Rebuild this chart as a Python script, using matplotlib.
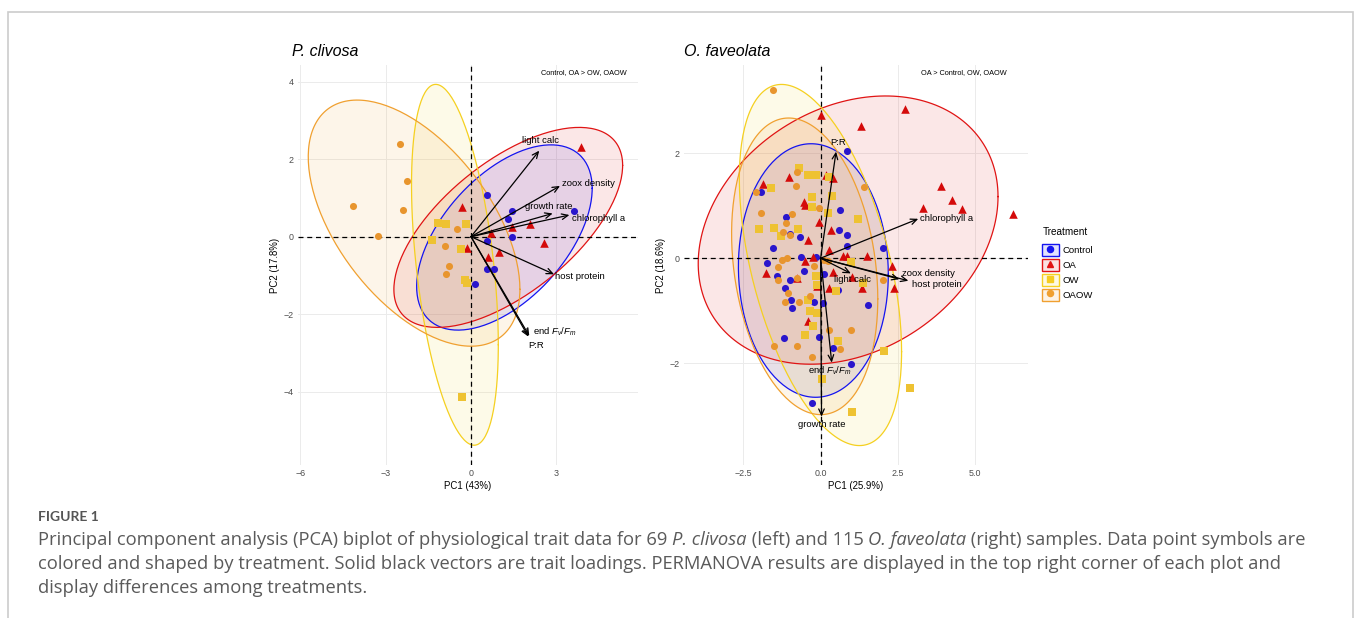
import numpy as np
import matplotlib
matplotlib.use("Agg")
import matplotlib.pyplot as plt
from matplotlib.patches import Patch, Rectangle
from matplotlib.lines import Line2D

plt.rcParams["font.family"] = ["Liberation Sans", "DejaVu Sans"]
plt.rcParams["mathtext.fontset"] = "custom"
plt.rcParams["mathtext.rm"] = "Liberation Sans"
plt.rcParams["mathtext.it"] = "Liberation Sans:italic"

W, H = 1357, 618

# ---- P. clivosa scores (PC1, PC2) ----
ctrl_L_x = [0.57, 1.45, 1.31, 3.63, 1.45, 0.57, 0.57, 0.82, 0.14]
ctrl_L_y = [1.08, 0.67, 0.46, 0.66, -0.02, -0.10, -0.84, -0.84, -1.23]
oa_L_x = [3.87, -0.33, 2.07, 1.45, 0.69, 2.57, -0.13, 1.00, 0.61]
oa_L_y = [2.32, 0.76, 0.34, 0.24, 0.09, -0.15, -0.28, -0.39, -0.52]
ow_L_x = [-1.15, -0.88, -0.16, -1.37, -0.36, -0.21, -0.13, -0.30]
ow_L_y = [0.36, 0.34, 0.34, -0.09, -0.32, -1.12, -1.20, -4.13]
oaow_L_x = [-2.50, -2.24, -4.14, -2.40, -3.26, -0.48, -0.91, -0.77, -0.89]
oaow_L_y = [2.38, 1.45, 0.80, 0.69, 0.02, 0.19, -0.24, -0.76, -0.95]

# ---- O. faveolata scores ----
ctrl_R_x = [0.84, -1.92, 0.63, -1.13, -0.99, -0.67, 0.60, 0.86, 0.84, 2.03, -1.53, -0.64, -0.16, -1.75, -1.42,
            -0.99, -0.54, 0.11, 0.55, -1.15, -0.97, -0.94, -0.20, 0.09, 1.52, -1.19, -0.04, 0.41, 0.97, -0.28]
ctrl_R_y = [2.05, 1.27, 0.92, 0.78, 0.46, 0.41, 0.53, 0.44, 0.23, 0.20, 0.19, 0.03, 0.03, -0.10, -0.34,
            -0.41, -0.25, -0.30, -0.60, -0.57, -0.79, -0.95, -0.83, -0.86, -0.90, -1.52, -1.50, -1.71, -2.02, -2.75]
oa_R_x = [2.74, 1.32, 0.00, 3.88, 4.26, 4.56, 3.32, 6.24, -1.86, -1.01, 0.19, 0.41, -0.53, -0.49, -0.04, 0.32, -0.41,
          0.28, 0.71, 0.86, 1.51, 2.32, -0.24, -0.50, -1.77, -0.78, 0.39, 1.00, -0.11, 0.28, 1.35, 2.38, -0.40]
oa_R_y = [2.84, 2.52, 2.73, 1.37, 1.11, 0.93, 0.95, 0.84, 1.42, 1.54, 1.59, 1.53, 1.07, 1.02, 0.68, 0.54, 0.35,
          0.16, 0.04, 0.04, 0.04, -0.14, 0.03, -0.06, -0.29, -0.37, -0.27, -0.35, -0.53, -0.56, -0.57, -0.57, -1.19]
ow_R_x = [-0.71, -0.41, -0.16, 0.27, -1.62, -0.29, 0.36, -0.27, 0.25, 1.20, -2.00, -1.50, -1.28, -0.74, 0.98,
          -0.16, -0.13, 1.38, 0.49, -0.40, -0.35, -0.13, -0.24, -0.49, 0.55, 2.05, 0.03, 2.89, 1.00]
ow_R_y = [1.71, 1.59, 1.59, 1.54, 1.33, 1.16, 1.19, 0.98, 0.86, 0.75, 0.55, 0.57, 0.43, 0.55, -0.08,
          -0.34, -0.51, -0.48, -0.63, -0.79, -1.00, -1.05, -1.30, -1.46, -1.57, -1.76, -2.30, -2.48, -2.93]
oaow_R_x = [-1.55, -0.78, -0.81, -0.04, 1.39, -2.09, -1.94, -0.94, -1.12, -1.23, -0.99, -1.10, -1.26, 0.11, 0.25,
            -1.39, -0.22, -1.37, -0.78, 2.03, -1.15, -1.07, -0.70, -0.35, 0.27, 0.98, -1.50, -0.76, 0.63, -0.27]
oaow_R_y = [3.21, 1.64, 1.37, 0.95, 1.35, 1.27, 0.87, 0.84, 0.67, 0.49, 0.44, 0.00, -0.03, -0.03, -0.05,
            -0.16, -0.15, -0.41, -0.38, -0.41, -0.84, -0.67, -0.84, -0.73, -1.37, -1.37, -1.68, -1.68, -1.73, -1.89]

# ---- trait loadings ----
traits_L = ["light calc", "zoox density", "growth rate", "chlorophyll a", "host protein", "end $F_v/F_m$", "P:R"]
load_L_x = [2.40, 3.13, 2.87, 3.46, 2.92, 2.05, 2.02]
load_L_y = [2.22, 1.31, 0.60, 0.56, -0.97, -2.56, -2.58]
lab_L_x = [2.44, 3.21, 2.75, 3.54, 2.95, 2.19, 2.02]
lab_L_y = [2.48, 1.38, 0.79, 0.46, -1.03, -2.45, -2.80]
lab_L_ha = ["center", "left", "center", "left", "left", "left", "left"]

traits_R = ["P:R", "chlorophyll a", "light calc", "zoox density", "host protein", "end $F_v/F_m$", "growth rate"]
load_R_x = [0.50, 3.16, 0.98, 2.55, 2.84, 0.36, 0.03]
load_R_y = [2.03, 0.75, -0.29, -0.40, -0.43, -1.99, -3.02]
lab_R_x = [0.58, 3.21, 1.02, 3.48, 3.75, 0.31, 0.03]
lab_R_y = [2.21, 0.76, -0.41, -0.29, -0.50, -2.14, -3.16]
lab_R_ha = ["center", "left", "center", "center", "center", "center", "center"]

# ---- 95% ellipses: centre x, centre y, sd x, sd y, correlation ----
groups = ["Control", "OA", "OW", "OAOW"]
ell_L = [(1.175, -0.02, 3.085, 2.39, 0.53),
         (1.31, 0.24, 4.02, 2.58, 0.62),
         (-0.565, -0.725, 1.525, 4.655, -0.443),
         (-2.0, 0.35, 3.72, 3.175, -0.538)]
ell_R = [(-0.235, -0.235, 2.425, 2.415, -0.03),
         (0.89, 0.535, 4.85, 2.555, 0.25),
         (-0.005, -0.13, 2.625, 3.44, -0.48),
         (-0.515, -0.155, 2.365, 2.825, -0.22)]

line_cols = ["#1414F0", "#E01414", "#F5D020", "#F0A030"]
point_cols = ["#2A16CC", "#D40A0A", "#EEC232", "#E8952E"]
markers = ["o", "^", "s", "o"]

fig = plt.figure(figsize=(W / 100, H / 100), dpi=100)
fig.patches.append(Rectangle((7.5 / W, -0.05), 1345 / W, (H - 12.5) / H + 0.05, transform=fig.transFigure,
                             fill=False, edgecolor="#CCCCCC", linewidth=1.2))


def draw_panel(ax, pts, ells, load_x, load_y, traits, lab_x, lab_y, lab_ha, xlim, ylim, xticks, xticklabels,
               yticks, title, note, xlabel, ylabel):
    t = np.linspace(0, 2 * np.pi, 200)
    for (cx, cy, sx, sy, r), lc in zip(ells, line_cols):
        ex = cx + sx * np.cos(t)
        ey = cy + sy * (r * np.cos(t) + np.sqrt(1 - r * r) * np.sin(t))
        ax.fill(ex, ey, color=lc, alpha=0.1, lw=0, zorder=1)
        ax.plot(ex, ey, color=lc, lw=0.9, zorder=1.2)
    ax.axhline(0, color="black", ls=(0, (4, 3)), lw=0.9, zorder=1.5)
    ax.axvline(0, color="black", ls=(0, (4, 3)), lw=0.9, zorder=1.5)
    for (px, py), pc, mk in zip(pts, point_cols, markers):
        ax.scatter(px, py, s=26 if mk != "^" else 38, marker=mk, color=pc, lw=0, zorder=3)
    for tx, ty in zip(load_x, load_y):
        ax.annotate("", xy=(tx, ty), xytext=(0, 0),
                    arrowprops=dict(arrowstyle="->,head_length=0.45,head_width=0.2", color="black", lw=0.9,
                                    shrinkA=0, shrinkB=0), zorder=4)
    for name, lx, ly, ha in zip(traits, lab_x, lab_y, lab_ha):
        ax.text(lx, ly, name, ha=ha, va="center", fontsize=6.8, color="black", zorder=5)
    ax.set_xlim(xlim)
    ax.set_ylim(ylim)
    ax.set_xticks(xticks)
    ax.set_xticklabels(xticklabels)
    ax.set_yticks(yticks)
    ax.grid(True, color="#EBEBEB", lw=0.7)
    ax.set_axisbelow(True)
    for s in ax.spines.values():
        s.set_visible(False)
    ax.tick_params(length=0, labelsize=6.4, labelcolor="#4D4D4D", pad=3)
    ax.set_xlabel(xlabel, fontsize=6.9, labelpad=2)
    ax.set_ylabel(ylabel, fontsize=6.9, labelpad=3)
    ax.text(title[1], 1.022, title[0], transform=ax.transAxes, fontsize=11.5, style="italic", ha="left",
            va="baseline")
    ax.text(note[1], 0.98, note[0], transform=ax.transAxes, fontsize=5.3, ha="right", va="center")


ax1 = fig.add_axes([298 / W, 1 - 465 / H, 340 / W, 400 / H])
draw_panel(ax1, [(ctrl_L_x, ctrl_L_y), (oa_L_x, oa_L_y), (ow_L_x, ow_L_y), (oaow_L_x, oaow_L_y)], ell_L,
           load_L_x, load_L_y, traits_L, lab_L_x, lab_L_y, lab_L_ha,
           (-6.08, 5.87), (-5.89, 4.43), [-6, -3, 0, 3], ["\u22126", "\u22123", "0", "3"], [-4, -2, 0, 2, 4],
           ("P. clivosa", -0.018), ("Control, OA > OW, OAOW", 0.968), "PC1 (43%)", "PC2 (17.8%)")

ax2 = fig.add_axes([684 / W, 1 - 465 / H, 344 / W, 400 / H])
draw_panel(ax2, [(ctrl_R_x, ctrl_R_y), (oa_R_x, oa_R_y), (ow_R_x, ow_R_y), (oaow_R_x, oaow_R_y)], ell_R,
           load_R_x, load_R_y, traits_R, lab_R_x, lab_R_y, lab_R_ha,
           (-4.42, 6.71), (-3.94, 3.68), [-2.5, 0, 2.5, 5.0], ["\u22122.5", "0.0", "2.5", "5.0"], [-2, 0, 2],
           ("O. faveolata", 0.0), ("OA > Control, OW, OAOW", 0.939), "PC1 (25.9%)", "PC2 (18.6%)")

# legend
handles = []
for lc, pc, mk in zip(line_cols, point_cols, markers):
    box = Patch(facecolor=matplotlib.colors.to_rgba(lc, 0.12), edgecolor=lc, lw=1.0)
    mark = Line2D([], [], marker=mk, color=lc if lc != "#F5D020" else "#F5CC20", ls="", markersize=4.4)
    handles.append((box, mark))
fig.text(1043 / W, 1 - 232 / H, "Treatment", fontsize=7.2, ha="left", va="center")
leg = fig.legend(handles, groups, loc="upper left",
                 bbox_to_anchor=(1042 / W, 1 - 244 / H), frameon=False, fontsize=6.8,
                 handlelength=1.75, handleheight=1.6, labelspacing=0.3, handletextpad=0.45, borderpad=0,
                 borderaxespad=0)

# caption
cap = fig.add_axes([0, 0, 1, 1])
cap.axis("off")
cap.set_xlim(0, W)
cap.set_ylim(H, 0)
cap_col = "#5A5A5A"
cap.text(38, 517, "FIGURE 1", fontsize=10, family=["Lato", "DejaVu Sans"], color="#555555", va="center",
         weight="bold")
caption_lines = [
    [("Principal component analysis (PCA) biplot of physiological trait data for 69 ", False),
     ("P. clivosa", True), (" (left) and 115 ", False), ("O. faveolata", True),
     (" (right) samples. Data point symbols are", False)],
    [("colored and shaped by treatment. Solid black vectors are trait loadings. PERMANOVA results are displayed "
      "in the top right corner of each plot and", False)],
    [("display differences among treatments.", False)],
]
for i, parts in enumerate(caption_lines):
    prev = None
    for txt, it in parts:
        kw = dict(fontsize=13.25, family=["Open Sans", "DejaVu Sans"], color=cap_col,
                  style="italic" if it else "normal")
        if prev is None:
            prev = cap.text(38, 540 + 24 * i, txt, va="center", ha="left", **kw)
        else:
            prev = cap.annotate(txt, xy=(1, 0), xycoords=prev, va="bottom", ha="left", **kw)

fig.savefig("out.png", dpi=100)
